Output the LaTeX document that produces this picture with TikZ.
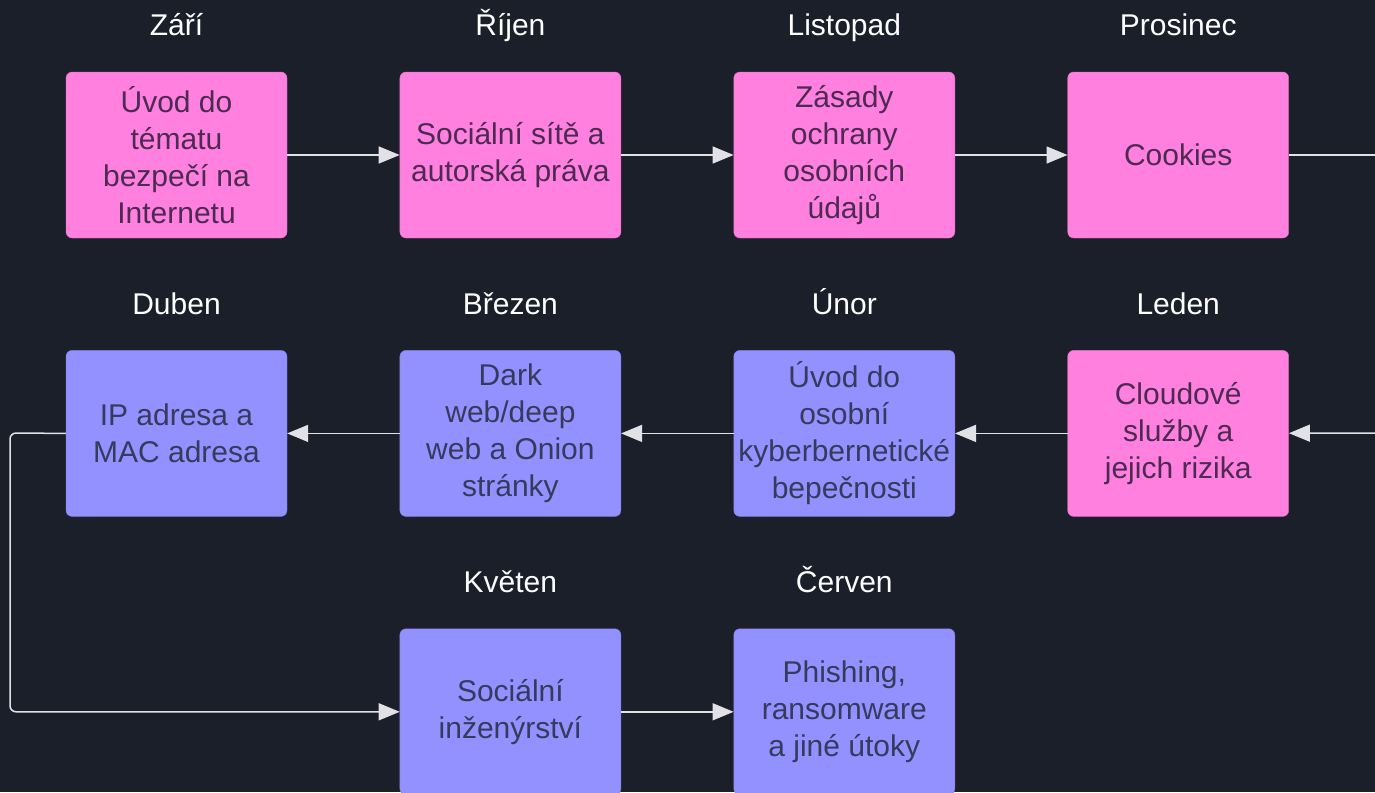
\documentclass[tikz,border=0pt]{standalone}
\usepackage{fontspec}
\setmainfont{Liberation Sans}
\usetikzlibrary{positioning, arrows.meta}
\definecolor{bgdark}{RGB}{27,31,42}
\definecolor{pinkbox}{RGB}{255,128,223}
\definecolor{pinkedge}{RGB}{225,105,195}
\definecolor{pinktext}{RGB}{76,42,82}
\definecolor{bluebox}{RGB}{147,145,255}
\definecolor{blueedge}{RGB}{125,123,225}
\definecolor{bluetext}{RGB}{54,58,92}
\definecolor{linegray}{RGB}{225,225,230}
\tikzset{>={Triangle[length=21pt,width=17pt,fill=linegray]}, % filled heads like the sketch
x=1pt, y=-1pt, % one unit is one pixel of the sketch, y grows downwards
topic/.style={rectangle, rounded corners=6pt, minimum width=221pt, minimum height=166pt, inner sep=2pt, align=center, font=\fontsize{30}{37}\selectfont}, % every topic box
pinktopic/.style={topic, fill=pinkbox, draw=pinkedge, text=pinktext}, % first half of the year
bluetopic/.style={topic, fill=bluebox, draw=blueedge, text=bluetext}, % second half
month/.style={text=white, font=\fontsize{30}{36}\selectfont}, % month above a box
link/.style={draw=linegray, line width=1.5pt, rounded corners=6pt}, % connectors
}

\begin{document}
\begin{tikzpicture}
\fill[bgdark, use as bounding box] (0,0) rectangle (1375,792);

\node[pinktopic] (zari) at (176.5,155) {Úvod do\\tématu\\bezpečí na\\Internetu};
\node[pinktopic, right=112.5pt of zari] (rijen) {Sociální sítě a\\autorská práva};
\node[pinktopic, right=112.5pt of rijen] (listopad) {Zásady\\ochrany\\osobních\\údajů};
\node[pinktopic, right=112.5pt of listopad] (prosinec) {Cookies};

\node[pinktopic, below=112pt of prosinec] (leden) {Cloudové\\služby a\\jejich rizika};
\node[bluetopic, left=112.5pt of leden] (unor) {Úvod do\\osobní\\kyberbernetické\\bepečnosti};
\node[bluetopic, left=112.5pt of unor] (brezen) {Dark\\web/deep\\web a Onion\\stránky};
\node[bluetopic, left=112.5pt of brezen] (duben) {IP adresa a\\MAC adresa};

\node[bluetopic, below=112pt of brezen] (kveten) {Sociální\\inženýrství};
\node[bluetopic, right=112.5pt of kveten] (cerven) {Phishing,\\ransomware\\a jiné útoky};

% months
\node[month, above=36pt of zari, anchor=base] (lzari) {Září};
\node[month, above=36pt of rijen, anchor=base] (lrijen) {Říjen};
\node[month, above=36pt of listopad, anchor=base] (llistopad) {Listopad};
\node[month, above=36pt of prosinec, anchor=base] (lprosinec) {Prosinec};
\node[month, above=36pt of leden, anchor=base] (lleden) {Leden};
\node[month, above=36pt of unor, anchor=base] (lunor) {Únor};
\node[month, above=36pt of brezen, anchor=base] (lbrezen) {Březen};
\node[month, above=36pt of duben, anchor=base] (lduben) {Duben};
\node[month, above=36pt of kveten, anchor=base] (lkveten) {Květen};
\node[month, above=36pt of cerven, anchor=base] (lcerven) {Červen};

\coordinate (outtop) at (1400,155);
\coordinate (outmid) at (1400,433);
\coordinate (loopcorner) at (10,433);

\draw[->, link]
(zari) edge (rijen)
(rijen) edge (listopad)
(listopad) edge (prosinec)
(prosinec) edge (outtop)
(outmid) edge (leden)
(leden) edge (unor)
(unor) edge (brezen)
(brezen) edge (duben)
(kveten) edge (cerven);
\draw[->, link] (duben.west) -- (loopcorner) |- (kveten.west);

\end{tikzpicture}
\end{document}
